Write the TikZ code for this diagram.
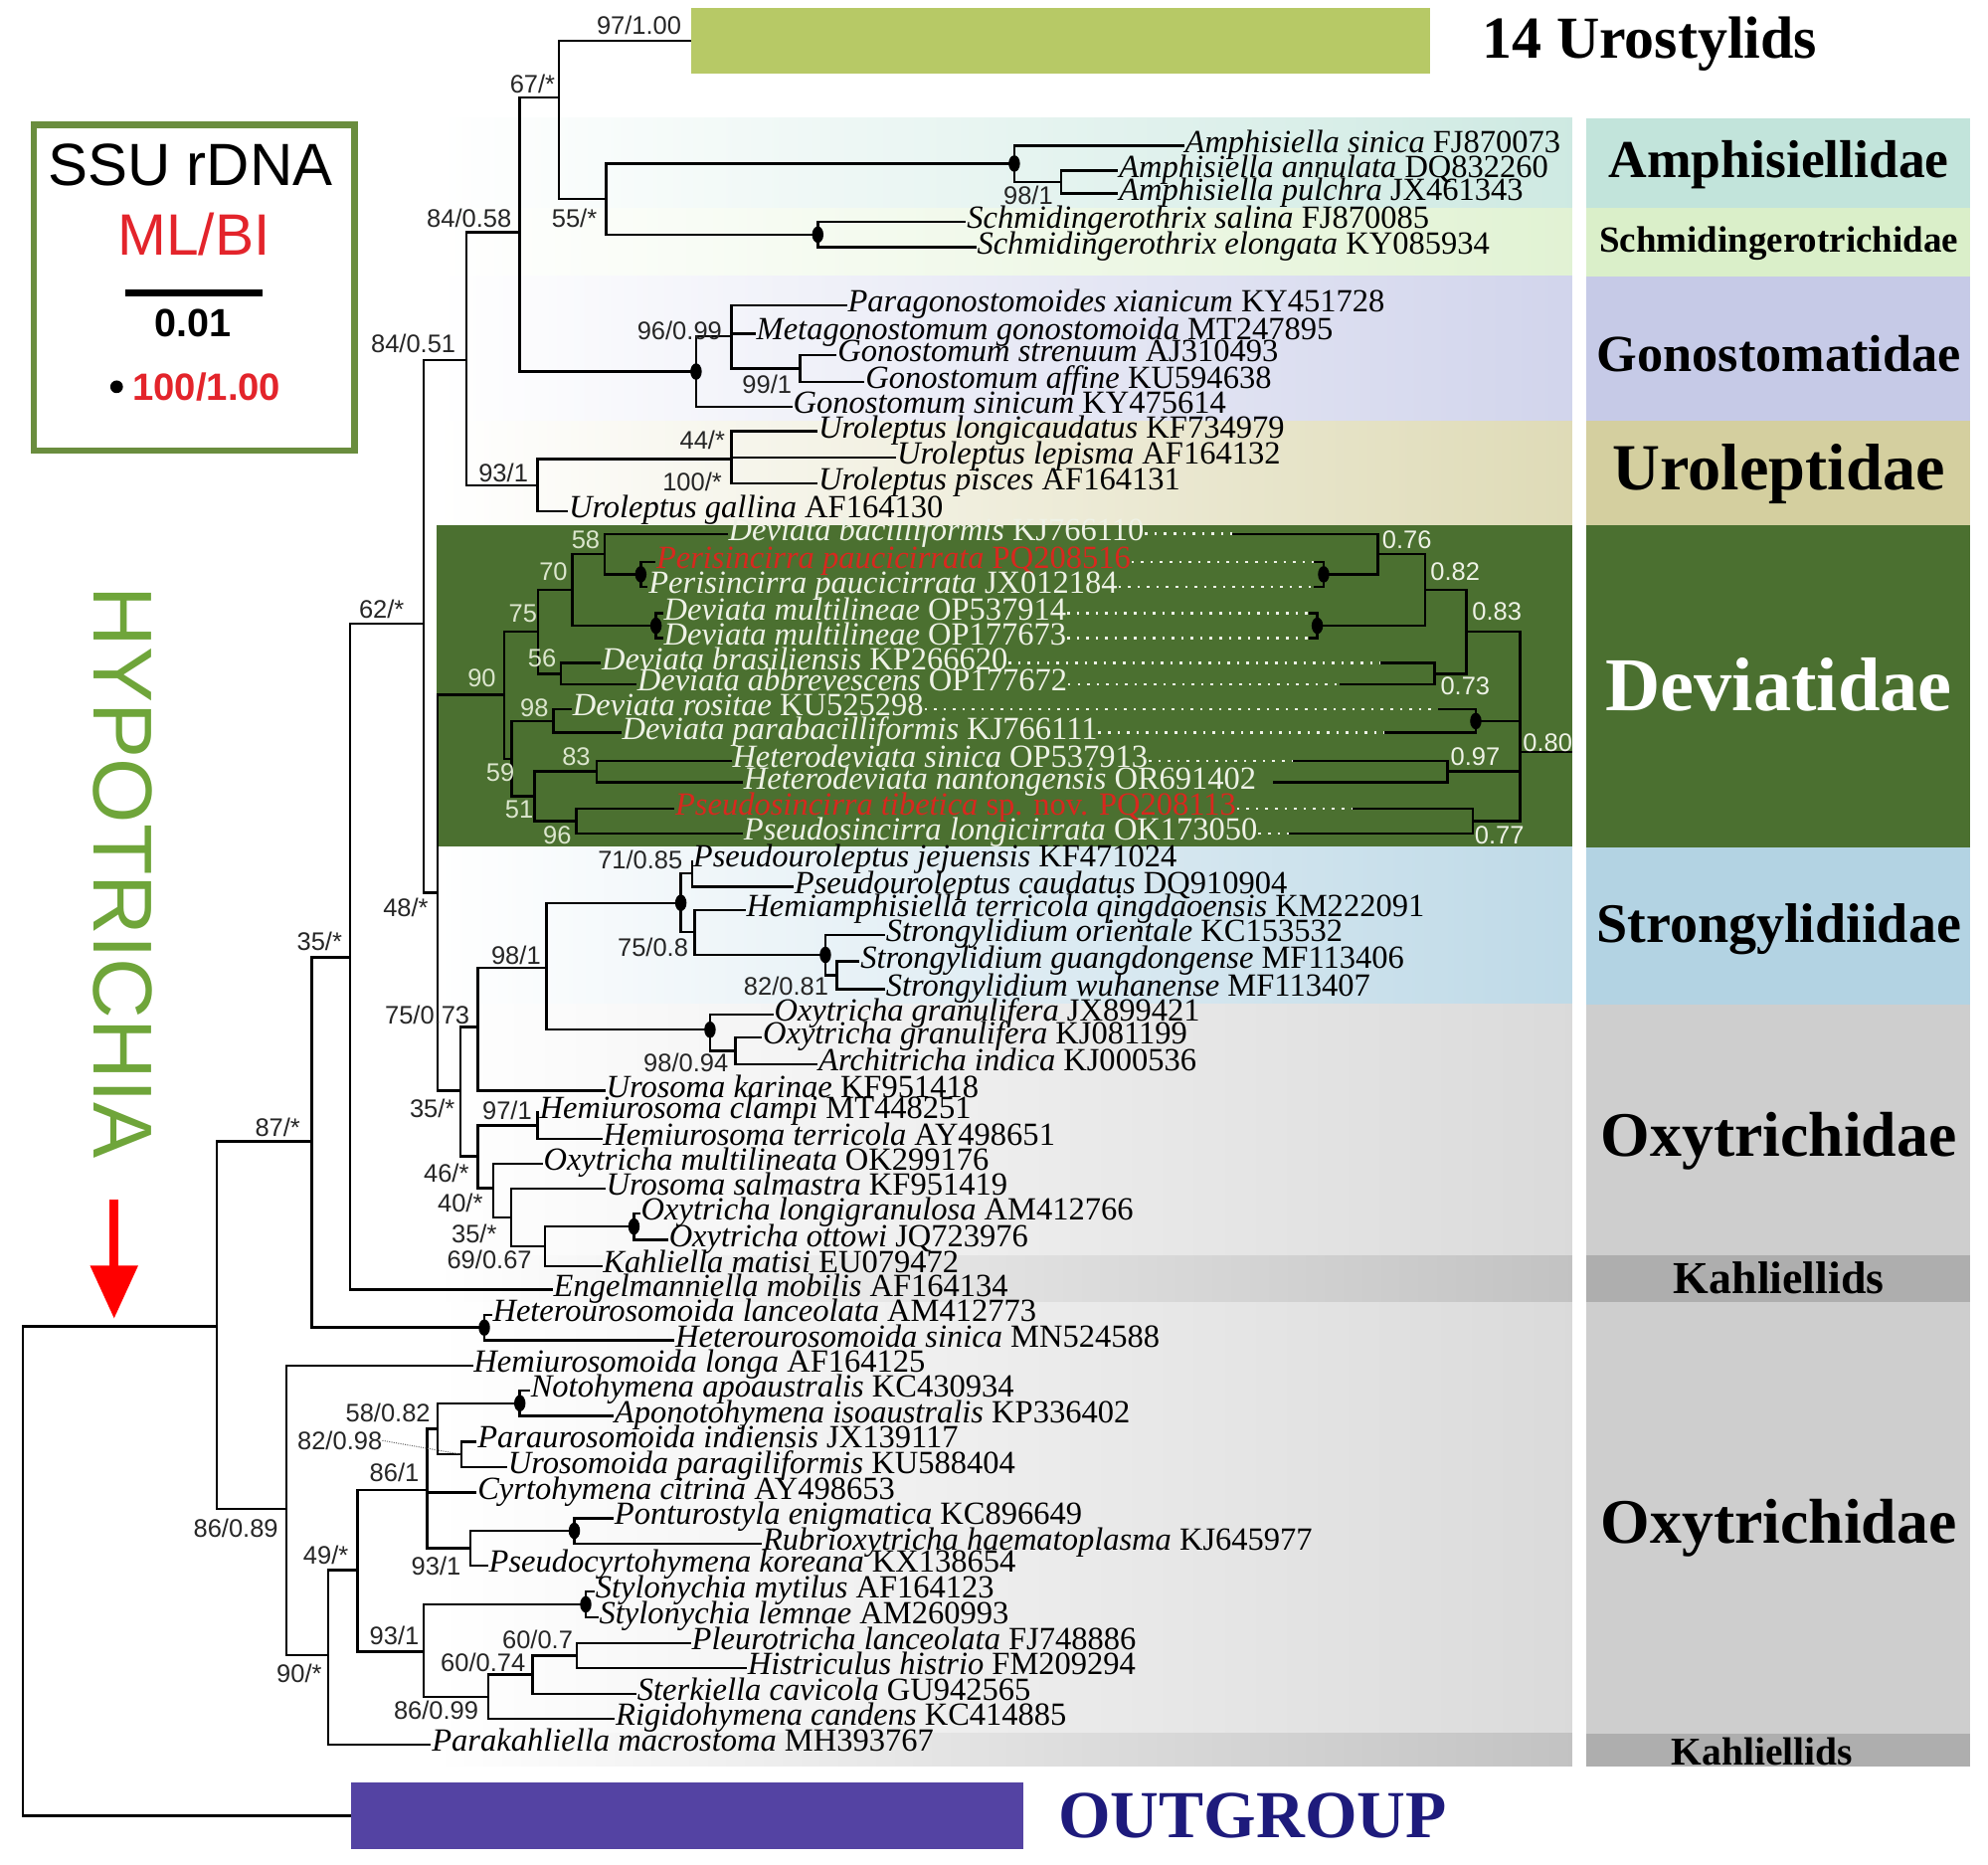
\documentclass[tikz,border=0pt]{standalone}
\usepackage{fontspec}
\setmainfont{Liberation Serif}
\setsansfont{Liberation Sans}
\usetikzlibrary{arrows.meta}
\definecolor{devgreen}{HTML}{4B7030}
\definecolor{devtext}{HTML}{EEF2E6}
\definecolor{devsup}{HTML}{DCE6CE}
\definecolor{newred}{HTML}{D8281E}
\definecolor{urocol}{HTML}{B7C966}
\definecolor{outcol}{HTML}{5443A3}
\definecolor{outtext}{HTML}{1E1B7C}
\definecolor{legframe}{HTML}{6A8D3E}
\definecolor{hypogreen}{HTML}{6FA53A}
\definecolor{mlred}{HTML}{E3242B}
\definecolor{amphcol}{HTML}{C2E4DB}
\definecolor{schmcol}{HTML}{DAEFC9}
\definecolor{gonocol}{HTML}{C6CAE7}
\definecolor{urolcol}{HTML}{D4CF9F}
\definecolor{strocol}{HTML}{B3D3E3}
\definecolor{oxycol}{HTML}{CECECE}
\definecolor{kahlcol}{HTML}{AEAEAE}
\newcommand{\tx}[2]{\textit{#1} #2}

\begin{document}
\begin{tikzpicture}[x=1pt,y=-1pt]
\tikzstyle{taxon}=[anchor=west, inner sep=0.5pt, font=\fontsize{25.5}{27}\selectfont, text height=14.5pt, text depth=4pt]
\tikzstyle{devtaxon}=[taxon, text=devtext]
\tikzstyle{newtaxon}=[taxon, text=newred]
\tikzstyle{supp}=[inner sep=0pt, font=\sffamily\fontsize{20}{22}\selectfont, text=black!85]
\tikzstyle{devsupp}=[supp, text=devsup]
\tikzstyle{rsupp}=[supp, anchor=west, text=devtext]
\tikzstyle{family}=[inner sep=0pt, font=\bfseries\fontsize{42}{44}\selectfont]
\tikzstyle{br}=[line width=1.9pt]
\tikzstyle{leader}=[devtext, line width=2pt, dash pattern=on 2pt off 5.5pt]

\useasboundingbox (0,0) rectangle (1568,1470);

% coloured bands
\shade[left color=white, right color=amphcol!80!white] (344,93) rectangle (1240,164);
\shade[left color=white, right color=schmcol!80!white] (344,164) rectangle (1240,218);
\shade[left color=white, right color=gonocol!80!white] (344,218) rectangle (1240,332);
\shade[left color=white, right color=urolcol!75!white] (344,332) rectangle (1240,414);
\fill[devgreen] (344,414) rectangle (1240,668);
\shade[left color=white, right color=strocol!85!white] (344,668) rectangle (1240,792);
\shade[left color=white, right color=oxycol!75!white] (344,792) rectangle (1240,990);
\shade[left color=white, right color=kahlcol!75!white] (344,990) rectangle (1240,1027);
\shade[left color=white, right color=oxycol!75!white] (344,1027) rectangle (1240,1367);
\shade[left color=white, right color=kahlcol!75!white] (344,1367) rectangle (1240,1393);

\fill[amphcol] (1251,93) rectangle (1554,164);
\fill[schmcol] (1251,164) rectangle (1554,218);
\fill[gonocol] (1251,218) rectangle (1554,332);
\fill[urolcol] (1251,332) rectangle (1554,414);
\fill[devgreen] (1251,414) rectangle (1554,668);
\fill[strocol] (1251,668) rectangle (1554,792);
\fill[oxycol] (1251,792) rectangle (1554,990);
\fill[kahlcol] (1251,990) rectangle (1554,1027);
\fill[oxycol] (1251,1027) rectangle (1554,1367);
\fill[kahlcol] (1251,1367) rectangle (1554,1393);

\node[family] (fAmph) at (1403,130) {Amphisiellidae};
\node[family, font=\bfseries\fontsize{29}{31}\selectfont] (fSchm) at (1403,192) {Schmidingerotrichidae};
\node[family, font=\bfseries\fontsize{41}{43}\selectfont] (fGono) at (1403,279) {Gonostomatidae};
\node[family, font=\bfseries\fontsize{52}{54}\selectfont] (fUrol) at (1403,374) {Uroleptidae};
\node[family, text=white, font=\bfseries\fontsize{60}{62}\selectfont] (fDev) at (1403,540) {Deviatidae};
\node[family, font=\bfseries\fontsize{44}{46}\selectfont] (fStro) at (1403,733) {Strongylidiidae};
\node[family, font=\bfseries\fontsize{50}{52}\selectfont] (fOxy1) at (1403,900) {Oxytrichidae};
\node[family, font=\bfseries\fontsize{36}{38}\selectfont] (fKahl1) at (1403,1008) {Kahliellids};
\node[family, font=\bfseries\fontsize{50}{52}\selectfont] (fOxy2) at (1403,1205) {Oxytrichidae};
\node[family, font=\bfseries\fontsize{31}{33}\selectfont] (fKahl2) at (1390,1381) {Kahliellids};

% legend
\node[draw=legframe, line width=5pt, fill=white, minimum width=253pt, minimum height=257pt, anchor=north west] (legbox) at (24,96) {};
\node[inner sep=0pt, font=\sffamily\fontsize{47}{49}\selectfont] (ssu) at (150,130) {SSU rDNA};
\node[inner sep=0pt, font=\sffamily\fontsize{46}{48}\selectfont, text=mlred] (mlbi) at (153,185) {ML/BI};
\coordinate (sb1) at (99,231);
\coordinate (sb2) at (207,231);
\draw[line width=5pt] (sb1) -- (sb2);
\node[inner sep=0pt, font=\sffamily\bfseries\fontsize{31}{33}\selectfont] (scale) at (152,255) {0.01};
\coordinate (legdot) at (92,305);
\fill (legdot) circle[radius=5pt];
\node[inner sep=0pt, font=\sffamily\bfseries\fontsize{30}{32}\selectfont, text=mlred] (legpp) at (163,305) {100/1.00};

% HYPOTRICHIA
\node[rotate=-90, inner sep=0pt, text=hypogreen, font=\sffamily\fontsize{66}{68}\selectfont] (hypo) at (97,688) {HYPOTRICHIA};
\coordinate (arrTop) at (90,946);
\coordinate (arrTip) at (90,1040);
\draw[red, line width=7pt, -{Triangle[width=36pt,length=42pt]}] (arrTop) -- (arrTip);

% bars
\node[fill=urocol, minimum width=583pt, minimum height=52pt, anchor=west, inner sep=0pt] (urobar) at (545,32) {};
\node[inner sep=0pt, font=\bfseries\fontsize{47}{49}\selectfont] (uroname) at (1301,35) {14 Urostylids};
\node[fill=outcol, minimum width=530pt, minimum height=53pt, anchor=west, inner sep=0pt] (outbar) at (277,1432) {};
\node[inner sep=0pt, text=outtext, font=\bfseries\fontsize{53}{55}\selectfont] (outname) at (988,1432) {OUTGROUP};

% taxa
\node[taxon] (Asin) at (934,114.8) {\tx{Amphisiella sinica}{FJ870073}};
\node[taxon] (Aann) at (882,134.5) {\tx{Amphisiella annulata}{DQ832260}};
\node[taxon] (Apul) at (882,152.7) {\tx{Amphisiella pulchra}{JX461343}};
\node[taxon] (Ssal) at (762,175) {\tx{Schmidingerothrix salina}{FJ870085}};
\node[taxon] (Selo) at (770,195) {\tx{Schmidingerothrix elongata}{KY085934}};
\node[taxon] (Pxia) at (668,241) {\tx{Paragonostomoides xianicum}{KY451728}};
\node[taxon] (Mgon) at (596,263) {\tx{Metagonostomum gonostomoida}{MT247895}};
\node[taxon] (Gstr) at (660,280) {\tx{Gonostomum strenuum}{AJ310493}};
\node[taxon] (Gaff) at (682,301) {\tx{Gonostomum affine}{KU594638}};
\node[taxon] (Gsin) at (625,321) {\tx{Gonostomum sinicum}{KY475614}};
\node[taxon] (Ulon) at (645,340) {\tx{Uroleptus longicaudatus}{KF734979}};
\node[taxon] (Ulep) at (707,361) {\tx{Uroleptus lepisma}{AF164132}};
\node[taxon] (Upis) at (645,381) {\tx{Uroleptus pisces}{AF164131}};
\node[taxon] (Ugal) at (448,403) {\tx{Uroleptus gallina}{AF164130}};

\node[devtaxon] (Dbac) at (574,421) {\tx{Deviata bacilliformis}{KJ766110}};
\node[newtaxon] (Ppq) at (517,443) {\tx{Perisincirra paucicirrata}{PQ208516}};
\node[devtaxon] (Pjx) at (511,462.7) {\tx{Perisincirra paucicirrata}{JX012184}};
\node[devtaxon] (Dm1) at (523,483.6) {\tx{Deviata multilineae}{OP537914}};
\node[devtaxon] (Dm2) at (523,503.2) {\tx{Deviata multilineae}{OP177673}};
\node[devtaxon] (Dbra) at (474,522.8) {\tx{Deviata brasiliensis}{KP266620}};
\node[devtaxon] (Dabb) at (502,539.8) {\tx{Deviata abbrevescens}{OP177672}};
\node[devtaxon] (Dros) at (451,559.4) {\tx{Deviata rositae}{KU525298}};
\node[devtaxon] (Dpar) at (490,577.7) {\tx{Deviata parabacilliformis}{KJ766111}};
\node[devtaxon] (Hsin) at (577,599.9) {\tx{Heterodeviata sinica}{OP537913}};
\node[devtaxon] (Hnan) at (586,616.9) {\tx{Heterodeviata nantongensis}{OR691402}};
\node[newtaxon] (Psp) at (532,637.8) {\textit{Pseudosincirra tibetica} sp. nov. PQ208113};
\node[devtaxon] (Plon) at (586,657.4) {\tx{Pseudosincirra longicirrata}{OK173050}};

\node[taxon] (Pjej) at (546,678.4) {\tx{Pseudouroleptus jejuensis}{KF471024}};
\node[taxon] (Pcau) at (626,699.3) {\tx{Pseudouroleptus caudatus}{DQ910904}};
\node[taxon] (Hter) at (588,717.6) {\tx{Hemiamphisiella terricola qingdaoensis}{KM222091}};
\node[taxon] (Sori) at (698,737.2) {\tx{Strongylidium orientale}{KC153532}};
\node[taxon] (Sgua) at (678,758.1) {\tx{Strongylidium guangdongense}{MF113406}};
\node[taxon] (Swuh) at (698,780) {\tx{Strongylidium wuhanense}{MF113407}};
\node[taxon] (Og1) at (610,800) {\tx{Oxytricha granulifera}{JX899421}};
\node[taxon] (Og2) at (601,818) {\tx{Oxytricha granulifera}{KJ081199}};
\node[taxon] (Aind) at (645,839.2) {\tx{Architricha indica}{KJ000536}};
\node[taxon] (Ukar) at (477.5,860) {\tx{Urosoma karinae}{KF951418}};
\node[taxon] (Hcla) at (425,877) {\tx{Hemiurosoma clampi}{MT448251}};
\node[taxon] (Hte2) at (475,898) {\tx{Hemiurosoma terricola}{AY498651}};
\node[taxon] (Omul) at (428,917.6) {\tx{Oxytricha multilineata}{OK299176}};
\node[taxon] (Usal) at (477.5,937.2) {\tx{Urosoma salmastra}{KF951419}};
\node[taxon] (Olon) at (505,956.8) {\tx{Oxytricha longigranulosa}{AM412766}};
\node[taxon] (Oott) at (527,977.7) {\tx{Oxytricha ottowi}{JQ723976}};
\node[taxon] (Kmat) at (475,998.6) {\tx{Kahliella matisi}{EU079472}};
\node[taxon] (Emob) at (436,1016.9) {\tx{Engelmanniella mobilis}{AF164134}};
\node[taxon] (Hlan) at (388,1036.8) {\tx{Heterourosomoida lanceolata}{AM412773}};
\node[taxon] (Hsi2) at (532,1057) {\tx{Heterourosomoida sinica}{MN524588}};
\node[taxon] (Hlon) at (373,1077) {\tx{Hemiurosomoida longa}{AF164125}};
\node[taxon] (Napo) at (418,1096.6) {\tx{Notohymena apoaustralis}{KC430934}};
\node[taxon] (Aiso) at (484,1116.7) {\tx{Aponotohymena isoaustralis}{KP336402}};
\node[taxon] (Pind) at (376,1136.8) {\tx{Paraurosomoida indiensis}{JX139117}};
\node[taxon] (Upar) at (400,1157) {\tx{Urosomoida paragiliformis}{KU588404}};
\node[taxon] (Ccit) at (376,1177) {\tx{Cyrtohymena citrina}{AY498653}};
\node[taxon] (Penig) at (484,1197.2) {\tx{Ponturostyla enigmatica}{KC896649}};
\node[taxon] (Rhae) at (601,1217.3) {\tx{Rubrioxytricha haematoplasma}{KJ645977}};
\node[taxon] (Pkor) at (385,1234.5) {\tx{Pseudocyrtohymena koreana}{KX138654}};
\node[taxon] (Smyt) at (469,1255.2) {\tx{Stylonychia mytilus}{AF164123}};
\node[taxon] (Slem) at (472,1275.3) {\tx{Stylonychia lemnae}{AM260993}};
\node[taxon] (Plan) at (545,1296) {\tx{Pleurotricha lanceolata}{FJ748886}};
\node[taxon] (Hhis) at (589,1315.5) {\tx{Histriculus histrio}{FM209294}};
\node[taxon] (Scav) at (502,1335.6) {\tx{Sterkiella cavicola}{GU942565}};
\node[taxon] (Rcan) at (485,1355.2) {\tx{Rigidohymena candens}{KC414885}};
\node[taxon] (Pmac) at (340,1375.9) {\tx{Parakahliella macrostoma}{MH393767}};

% inner nodes
\coordinate (root) at (18,1239);
\coordinate (nIn) at (171,1046);
\coordinate (n87) at (246,900);
\coordinate (n35a) at (276,755);
\coordinate (nHet) at (382,1046.9);
\coordinate (n62) at (334,492);
\coordinate (n84b) at (368,284);
\coordinate (n84a) at (410,183);
\coordinate (n67) at (441,77);
\coordinate (n55) at (478,157);
\coordinate (nAmph) at (800,129);
\coordinate (n98a) at (837,143.6);
\coordinate (nSchm) at (645,185);
\coordinate (nGono) at (549,293);
\coordinate (n96) at (577,265);
\coordinate (n99) at (631,290.5);
\coordinate (nUro) at (424,383);
\coordinate (n44) at (577,362);
\coordinate (n48) at (345,704);
\coordinate (nd90) at (397.6,548);
\coordinate (nd75) at (424.5,498);
\coordinate (nd70) at (451.5,465);
\coordinate (nd58) at (476.7,437);
\coordinate (nPP) at (505.4,452.9);
\coordinate (nDM) at (517.4,493.4);
\coordinate (nd56) at (442.5,531.3);
\coordinate (nd59) at (403.5,598.3);
\coordinate (nd98) at (436.5,568.6);
\coordinate (nd51) at (421.5,628);
\coordinate (nd83) at (470.6,608.4);
\coordinate (nd96) at (454.5,647.6);
\coordinate (n35b) at (363,860);
\coordinate (n75b) at (377,810);
\coordinate (n98b) at (431,763);
\coordinate (nStr) at (537,712);
\coordinate (n71) at (546,688.9);
\coordinate (n75c) at (548,735);
\coordinate (nStr2) at (651,753);
\coordinate (n82) at (660,769);
\coordinate (nOxy) at (560,812);
\coordinate (n98c) at (580,828.6);
\coordinate (n46) at (377,912);
\coordinate (n97) at (424,887.5);
\coordinate (n40) at (389,937);
\coordinate (n35c) at (403,960);
\coordinate (n69) at (430,983);
\coordinate (nOtt) at (500,967.2);
\coordinate (n86a) at (226,1190);
\coordinate (n90) at (259,1305);
\coordinate (n49) at (282,1238);
\coordinate (n86b) at (337,1175);
\coordinate (n58b) at (345,1126.8);
\coordinate (nNoto) at (410,1106.6);
\coordinate (n82b) at (364,1146.9);
\coordinate (n93a) at (371,1220.8);
\coordinate (nPont) at (453,1207.2);
\coordinate (n93b) at (334,1302.6);
\coordinate (nStyl) at (462,1265.2);
\coordinate (n86c) at (385,1338);
\coordinate (n60a) at (420,1320.6);
\coordinate (n60b) at (455,1305.7);

% second tree (Deviatidae)
\coordinate (r80) at (1199,593);
\coordinate (rroot) at (1240,593);
\coordinate (r83) at (1156.6,498);
\coordinate (r82) at (1124,465);
\coordinate (r76) at (1086.6,437);
\coordinate (rPP) at (1044,452.9);
\coordinate (rM) at (1039,493.4);
\coordinate (r73) at (1131.6,531.3);
\coordinate (rR) at (1164,568.6);
\coordinate (r97) at (1141.6,608.4);
\coordinate (r77) at (1161.6,647.6);
\coordinate (ebac) at (971.7,421);
\coordinate (eP1) at (1036,443);
\coordinate (eP2) at (1036,462.7);
\coordinate (eM1) at (1032,483.6);
\coordinate (eM2) at (1032,503.2);
\coordinate (ebra) at (1089,522.8);
\coordinate (eabb) at (1056.6,539.8);
\coordinate (eros) at (1134,559.4);
\coordinate (epar) at (1091.6,577.7);
\coordinate (esin) at (1019,599.9);
\coordinate (enan) at (1004,616.9);
\coordinate (esp) at (1066.6,637.8);
\coordinate (elon) at (1016.7,657.4);

\draw[br] (root) |- (nIn) (root) |- (outbar.west);
\draw[br] (nIn) |- (n87) (nIn) |- (n86a);
\draw[br] (n87) |- (n35a) (n87) |- (nHet);
\draw[br] (nHet) |- (Hlan.west) (nHet) |- (Hsi2.west);
\draw[br] (n35a) |- (n62) (n35a) |- (Emob.west);
\draw[br] (n62) |- (n84b) (n62) |- (n48);
\draw[br] (n84b) |- (n84a) (n84b) |- (nUro);
\draw[br] (n84a) |- (n67) (n84a) |- (nGono);
\draw[br] (n67) |- (urobar.west) (n67) |- (n55);
\draw[br] (n55) |- (nAmph) (n55) |- (nSchm);
\draw[br] (nAmph) |- (Asin.west) (nAmph) |- (n98a);
\draw[br] (n98a) |- (Aann.west) (n98a) |- (Apul.west);
\draw[br] (nSchm) |- (Ssal.west) (nSchm) |- (Selo.west);
\draw[br] (nGono) |- (n96) (nGono) |- (Gsin.west);
\draw[br] (n96) |- (Pxia.west) (n96) |- (Mgon.west) (n96) |- (n99);
\draw[br] (n99) |- (Gstr.west) (n99) |- (Gaff.west);
\draw[br] (nUro) |- (n44) (nUro) |- (Ugal.west);
\draw[br] (n44) |- (Ulon.west) (n44) |- (Ulep.west) (n44) |- (Upis.west);

\draw[br] (n48) |- (nd90) (n48) |- (n35b);
\draw[br] (nd90) |- (nd75) (nd90) |- (nd59);
\draw[br] (nd75) |- (nd70) (nd75) |- (nd56);
\draw[br] (nd70) |- (nd58) (nd70) |- (nDM);
\draw[br] (nd58) |- (Dbac.west) (nd58) |- (nPP);
\draw[br] (nPP) |- (Ppq.west) (nPP) |- (Pjx.west);
\draw[br] (nDM) |- (Dm1.west) (nDM) |- (Dm2.west);
\draw[br] (nd56) |- (Dbra.west) (nd56) |- (Dabb.west);
\draw[br] (nd59) |- (nd98) (nd59) |- (nd51);
\draw[br] (nd98) |- (Dros.west) (nd98) |- (Dpar.west);
\draw[br] (nd51) |- (nd83) (nd51) |- (nd96);
\draw[br] (nd83) |- (Hsin.west) (nd83) |- (Hnan.west);
\draw[br] (nd96) |- (Psp.west) (nd96) |- (Plon.west);

\draw[br] (r80) -- (rroot);
\draw[br] (r80) |- (r83) (r80) |- (rR) (r80) |- (r97) (r80) |- (r77);
\draw[br] (r83) |- (r82) (r83) |- (r73);
\draw[br] (r82) |- (r76) (r82) |- (rM);
\draw[br] (r76) |- (ebac) (r76) |- (rPP);
\draw[br] (rPP) |- (eP1) (rPP) |- (eP2);
\draw[br] (rM) |- (eM1) (rM) |- (eM2);
\draw[br] (r73) |- (ebra) (r73) |- (eabb);
\draw[br] (rR) |- (eros) (rR) |- (epar);
\draw[br] (r97) |- (esin) (r97) |- (enan);
\draw[br] (r77) |- (esp) (r77) |- (elon);
\draw[leader] (Dbac.east) -- (ebac) (Ppq.east) -- (eP1) (Pjx.east) -- (eP2)
  (Dm1.east) -- (eM1) (Dm2.east) -- (eM2) (Dbra.east) -- (ebra) (Dabb.east) -- (eabb)
  (Dros.east) -- (eros) (Dpar.east) -- (epar) (Hsin.east) -- (esin) (Psp.east) -- (esp)
  (Plon.east) -- (elon);

\draw[br] (n35b) |- (n75b) (n35b) |- (n46);
\draw[br] (n75b) |- (n98b) (n75b) |- (Ukar.west);
\draw[br] (n98b) |- (nStr) (n98b) |- (nOxy);
\draw[br] (nStr) |- (n71) (nStr) |- (n75c);
\draw[br] (n71) |- (Pjej.west) (n71) |- (Pcau.west);
\draw[br] (n75c) |- (Hter.west) (n75c) |- (nStr2);
\draw[br] (nStr2) |- (Sori.west) (nStr2) |- (n82);
\draw[br] (n82) |- (Sgua.west) (n82) |- (Swuh.west);
\draw[br] (nOxy) |- (Og1.west) (nOxy) |- (n98c);
\draw[br] (n98c) |- (Og2.west) (n98c) |- (Aind.west);
\draw[br] (n46) |- (n97) (n46) |- (n40);
\draw[br] (n97) |- (Hcla.west) (n97) |- (Hte2.west);
\draw[br] (n40) |- (Omul.west) (n40) |- (n35c);
\draw[br] (n35c) |- (Usal.west) (n35c) |- (n69);
\draw[br] (n69) |- (nOtt) (n69) |- (Kmat.west);
\draw[br] (nOtt) |- (Olon.west) (nOtt) |- (Oott.west);
\draw[br] (n86a) |- (Hlon.west) (n86a) |- (n90);
\draw[br] (n90) |- (n49) (n90) |- (Pmac.west);
\draw[br] (n49) |- (n86b) (n49) |- (n93b);
\draw[br] (n86b) |- (n58b) (n86b) |- (Ccit.west) (n86b) |- (n93a);
\draw[br] (n58b) |- (nNoto) (n58b) |- (n82b);
\draw[br] (nNoto) |- (Napo.west) (nNoto) |- (Aiso.west);
\draw[br] (n82b) |- (Pind.west) (n82b) |- (Upar.west);
\draw[br] (n93a) |- (nPont) (n93a) |- (Pkor.west);
\draw[br] (nPont) |- (Penig.west) (nPont) |- (Rhae.west);
\draw[br] (n93b) |- (nStyl) (n93b) |- (n86c);
\draw[br] (nStyl) |- (Smyt.west) (nStyl) |- (Slem.west);
\draw[br] (n86c) |- (n60a) (n86c) |- (Rcan.west);
\draw[br] (n60a) |- (n60b) (n60a) |- (Scav.west);
\draw[br] (n60b) |- (Plan.west) (n60b) |- (Hhis.west);

% full support
\fill (nAmph) ellipse[x radius=4.5pt, y radius=6.5pt] (nSchm) ellipse[x radius=4.5pt, y radius=6.5pt]
  (nGono) ellipse[x radius=4.5pt, y radius=6.5pt] (nPP) ellipse[x radius=4.5pt, y radius=6.5pt]
  (nDM) ellipse[x radius=4.5pt, y radius=6.5pt] (rPP) ellipse[x radius=4.5pt, y radius=6.5pt]
  (rM) ellipse[x radius=4.5pt, y radius=6.5pt] (rR) ellipse[x radius=4.5pt, y radius=6.5pt]
  (nStr) ellipse[x radius=4.5pt, y radius=6.5pt] (nStr2) ellipse[x radius=4.5pt, y radius=6.5pt]
  (nOxy) ellipse[x radius=4.5pt, y radius=6.5pt] (nOtt) ellipse[x radius=4.5pt, y radius=6.5pt]
  (nHet) ellipse[x radius=4.5pt, y radius=6.5pt] (nNoto) ellipse[x radius=4.5pt, y radius=6.5pt]
  (nPont) ellipse[x radius=4.5pt, y radius=6.5pt] (nStyl) ellipse[x radius=4.5pt, y radius=6.5pt];

% support values
\node[supp] (l97) at (504,20) {97/1.00};
\node[supp] (l67) at (420,66) {67/*};
\node[supp] (l8458) at (370,172) {84/0.58};
\node[supp] (l55) at (453,172) {55/*};
\node[supp] (l8451) at (326,271) {84/0.51};
\node[supp] (l981a) at (811,154) {98/1};
\node[supp] (l9699) at (536,261) {96/0.99};
\node[supp] (l991) at (605,303) {99/1};
\node[supp] (l44) at (554,347) {44/*};
\node[supp] (l100) at (546,380) {100/*};
\node[supp] (l931a) at (397,373) {93/1};
\node[supp] (l62) at (301,480) {62/*};
\node[supp] (l35a) at (252,742) {35/*};
\node[supp] (l87) at (219,889) {87/*};
\node[supp] (l48) at (320,716) {48/*};
\node[supp] (l7573) at (337,800) {75/0.73};
\node[supp] (l981b) at (407,753) {98/1};
\node[supp] (l7185) at (505,678) {71/0.85};
\node[supp] (l758) at (515,747) {75/0.8};
\node[supp] (l8281) at (620,778) {82/0.81};
\node[supp] (l9894) at (541,838) {98/0.94};
\node[supp] (l35b) at (341,874) {35/*};
\node[supp] (l971) at (400,876) {97/1};
\node[supp] (l46) at (352,925) {46/*};
\node[supp] (l40) at (363,949) {40/*};
\node[supp] (l35c) at (374,973) {35/*};
\node[supp] (l6967) at (386,993) {69/0.67};
\node[supp] (l8689) at (186,1205) {86/0.89};
\node[supp] (l90) at (236,1320) {90/*};
\node[supp] (l49) at (257,1226) {49/*};
\node[supp] (l861) at (311,1161) {86/1};
\node[supp] (l5882) at (306,1114) {58/0.82};
\node[supp] (l8298) at (268,1136) {82/0.98};
\node[supp] (l931b) at (344,1235) {93/1};
\node[supp] (l931c) at (311,1290) {93/1};
\node[supp] (l607) at (424,1293) {60/0.7};
\node[supp] (l6074) at (381,1311) {60/0.74};
\node[supp] (l8699) at (344,1349) {86/0.99};
\draw[densely dotted, black!60, line width=0.8pt] (l8298.east) -- (n82b);

\node[devsupp] (d58) at (462,426) {58};
\node[devsupp] (d70) at (436.5,451) {70};
\node[devsupp] (d75) at (412.5,484) {75};
\node[devsupp] (d90) at (380,535) {90};
\node[devsupp] (d56) at (427.5,519) {56};
\node[devsupp] (d98) at (421.5,558) {98};
\node[devsupp] (d59) at (394.6,609) {59};
\node[devsupp] (d83) at (454.5,597) {83};
\node[devsupp] (d51) at (409.5,638) {51};
\node[devsupp] (d96) at (439.5,659) {96};

\node[rsupp] (q76) at (1090,426) {0.76};
\node[rsupp] (q82) at (1128,451) {0.82};
\node[rsupp] (q83) at (1161,482) {0.83};
\node[rsupp] (q73) at (1136,541) {0.73};
\node[rsupp] (q97) at (1144,597) {0.97};
\node[rsupp] (q77) at (1163,659) {0.77};
\node[rsupp] (q80) at (1201,586) {0.80};
\end{tikzpicture}
\end{document}
